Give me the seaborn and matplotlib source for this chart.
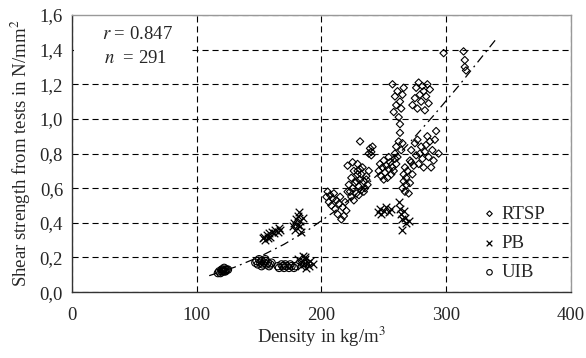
import numpy as np
import pandas as pd
import matplotlib
matplotlib.use("Agg")
import matplotlib.pyplot as plt
from matplotlib.patches import Rectangle
import seaborn as sns

# ---- data ----
# UIB (open circles)
uib_x = [117, 118, 119, 120, 120, 121, 121, 122, 122, 123, 123, 124, 125,
         147, 148, 149, 150, 151, 152, 153, 154, 155, 156, 157, 158, 159, 160, 152, 155,
         165, 166, 168, 169, 170, 171, 172, 174, 175, 176, 178, 179]
uib_y = [0.11, 0.12, 0.11, 0.12, 0.13, 0.12, 0.13, 0.12, 0.14, 0.13, 0.12, 0.13, 0.13,
         0.17, 0.18, 0.16, 0.19, 0.17, 0.18, 0.16, 0.17, 0.18, 0.16, 0.17, 0.15, 0.16, 0.17, 0.15, 0.19,
         0.15, 0.14, 0.16, 0.15, 0.14, 0.16, 0.15, 0.14, 0.16, 0.15, 0.14, 0.15]

# PB (crosses)
pb_x = [153, 154, 155, 156, 157, 158, 159, 160, 162, 163, 165, 166, 167,
        177, 178, 179, 180, 181, 181, 182, 183, 184, 185, 183,
        181, 183, 184, 185, 186, 187, 188, 189, 190, 191, 193, 187, 185,
        245, 247, 248, 250, 252, 254, 256,
        262, 263, 264, 265, 266, 267, 268, 270, 265]
pb_y = [0.31, 0.32, 0.30, 0.33, 0.31, 0.34, 0.32, 0.35, 0.34, 0.36, 0.35, 0.37, 0.36,
        0.38, 0.40, 0.36, 0.42, 0.44, 0.39, 0.46, 0.41, 0.35, 0.43, 0.38,
        0.19, 0.17, 0.15, 0.18, 0.16, 0.19, 0.14, 0.17, 0.15, 0.18, 0.16, 0.20, 0.21,
        0.46, 0.48, 0.45, 0.47, 0.49, 0.46, 0.48,
        0.52, 0.48, 0.45, 0.42, 0.47, 0.43, 0.40, 0.41, 0.36]

# RTSP (open diamonds)
rtsp_x = [204, 205, 206, 207, 208, 209, 210, 211, 212, 213, 214, 215, 216, 217, 218, 219, 220, 221,
          222, 223, 224, 225, 226, 227, 228, 229, 230, 231, 232, 233, 234, 235, 236, 237, 238,
          224, 226, 228, 230, 232, 234, 236, 229, 231, 221, 225, 229,
          231, 238, 239, 240, 241, 240,
          246, 247, 248, 249, 250, 251, 252, 253, 254, 255, 256, 257, 258, 259, 260, 250, 254,
          265, 266, 266, 267, 267, 268, 268, 269, 270, 271, 272, 273,
          259, 260, 261, 262, 263, 263, 264, 265,
          271, 272, 274, 275, 276, 277, 278, 279, 280, 281, 282, 283,
          284, 285, 286, 287, 288, 289, 290, 291, 292, 294,
          257, 258, 259, 260, 261, 262, 263, 264, 265, 266,
          273, 275, 276, 277, 278, 279, 280, 281, 282, 283, 284, 285, 286, 287,
          298, 314, 315, 315, 316]
rtsp_y = [0.55, 0.58, 0.52, 0.56, 0.50, 0.54, 0.57, 0.48, 0.53, 0.45, 0.51, 0.55, 0.42, 0.49, 0.44, 0.52, 0.47, 0.58,
          0.62, 0.58, 0.66, 0.60, 0.70, 0.63, 0.57, 0.68, 0.61, 0.65, 0.59, 0.72, 0.64, 0.60, 0.67, 0.62, 0.70,
          0.55, 0.53, 0.64, 0.56, 0.68, 0.58, 0.65, 0.74, 0.71, 0.73, 0.75, 0.70,
          0.87, 0.80, 0.83, 0.81, 0.84, 0.79,
          0.70, 0.74, 0.67, 0.72, 0.76, 0.69, 0.73, 0.66, 0.71, 0.75, 0.68, 0.72, 0.70, 0.77, 0.74, 0.65, 0.78,
          0.60, 0.64, 0.68, 0.58, 0.72, 0.62, 0.66, 0.70, 0.57, 0.63, 0.75, 0.68,
          0.80, 0.84, 0.78, 0.87, 0.92, 0.97, 0.82, 0.86,
          0.76, 0.82, 0.73, 0.86, 0.79, 0.88, 0.74, 0.80, 0.84, 0.77, 0.72, 0.81,
          0.85, 0.90, 0.78, 0.87, 0.72, 0.82, 0.76, 0.88, 0.93, 0.80,
          1.20, 1.04, 1.13, 1.08, 1.16, 1.01, 1.10, 1.06, 1.14, 1.18,
          1.08, 1.12, 1.18, 1.06, 1.21, 1.14, 1.10, 1.19, 1.16, 1.05, 1.13, 1.20, 1.09, 1.17,
          1.38, 1.39, 1.34, 1.30, 1.28]

# trend curve
trend_x = [110, 130, 150, 170, 190, 210, 230, 250, 270, 290, 310, 340]
trend_y = [0.095, 0.143, 0.203, 0.276, 0.362, 0.463, 0.579, 0.71, 0.857, 1.02, 1.19, 1.46]

x_ticks = [0, 100, 200, 300, 400]
y_ticks = [0.0, 0.2, 0.4, 0.6, 0.8, 1.0, 1.2, 1.4, 1.6]
y_ticklabels = ["0,0", "0,2", "0,4", "0,6", "0,8", "1,0", "1,2", "1,4", "1,6"]

df = pd.concat([
    pd.DataFrame({"density": rtsp_x, "shear": rtsp_y, "series": "RTSP"}),
    pd.DataFrame({"density": pb_x, "shear": pb_y, "series": "PB"}),
    pd.DataFrame({"density": uib_x, "shear": uib_y, "series": "UIB"}),
])

sns.set_theme(style="white")
plt.rcParams["font.family"] = ["Liberation Serif", "DejaVu Serif"]
plt.rcParams["mathtext.fontset"] = "stix"
FS = 13.5

fig, ax = plt.subplots(figsize=(5.86, 3.58), dpi=100)
fig.subplots_adjust(left=0.123, right=0.974, bottom=0.184, top=0.958)

sns.scatterplot(data=df[df.series == "RTSP"], x="density", y="shear", marker="D", s=14,
                facecolor="none", edgecolor="black", linewidth=0.8, ax=ax, label="RTSP", zorder=3)
sns.scatterplot(data=df[df.series == "PB"], x="density", y="shear", marker="x", s=30,
                color="black", linewidth=0.9, ax=ax, label="PB", zorder=3)
sns.scatterplot(data=df[df.series == "UIB"], x="density", y="shear", marker="o", s=28,
                facecolor="none", edgecolor="black", linewidth=0.8, ax=ax, label="UIB", zorder=3)
sns.lineplot(x=trend_x, y=trend_y, color="black", linewidth=0.9, ax=ax,
             linestyle=(0, (7, 3.5, 1.5, 3.5)), zorder=2)

ax.set_xlim(0, 400)
ax.set_ylim(0, 1.6)
ax.set_xticks(x_ticks)
ax.set_yticks(y_ticks)
ax.set_yticklabels(y_ticklabels)
ax.tick_params(axis="both", labelsize=FS, direction="inout", length=7, width=0.8, color="#333333")
ax.tick_params(axis="x", pad=7)
ax.tick_params(axis="y", pad=3)
ax.grid(True, color="black", linestyle=(0, (5.5, 3.5)), linewidth=0.8)
ax.set_axisbelow(True)

for side in ["left", "bottom"]:
    ax.spines[side].set_color("#333333")
    ax.spines[side].set_linewidth(1.0)
for side in ["top", "right"]:
    ax.spines[side].set_color("#999999")
    ax.spines[side].set_linewidth(1.0)

ax.set_xlabel("Density in kg/m$^3$", fontsize=FS, labelpad=1)
ax.set_ylabel("Shear strength from tests in N/mm$^2$", fontsize=FS, labelpad=5)

# white box behind the statistics text hides the grid there
ax.add_patch(Rectangle((0.003, 0.80), 0.233, 0.195, transform=ax.transAxes,
                       facecolor="white", edgecolor="none", zorder=1))
ax.text(24, 1.49, "$r$ = 0.847", fontsize=FS, va="center", zorder=4)
ax.text(26, 1.35, "$n$  = 291", fontsize=FS, va="center", zorder=4)

leg = ax.legend(loc="center left", bbox_to_anchor=(0.822, 0.176), frameon=False, fontsize=FS,
                handletextpad=0.25, labelspacing=0.65, handlelength=0.8, borderpad=0,
                borderaxespad=0, markerscale=0.75)

fig.savefig("out.png", dpi=100)
